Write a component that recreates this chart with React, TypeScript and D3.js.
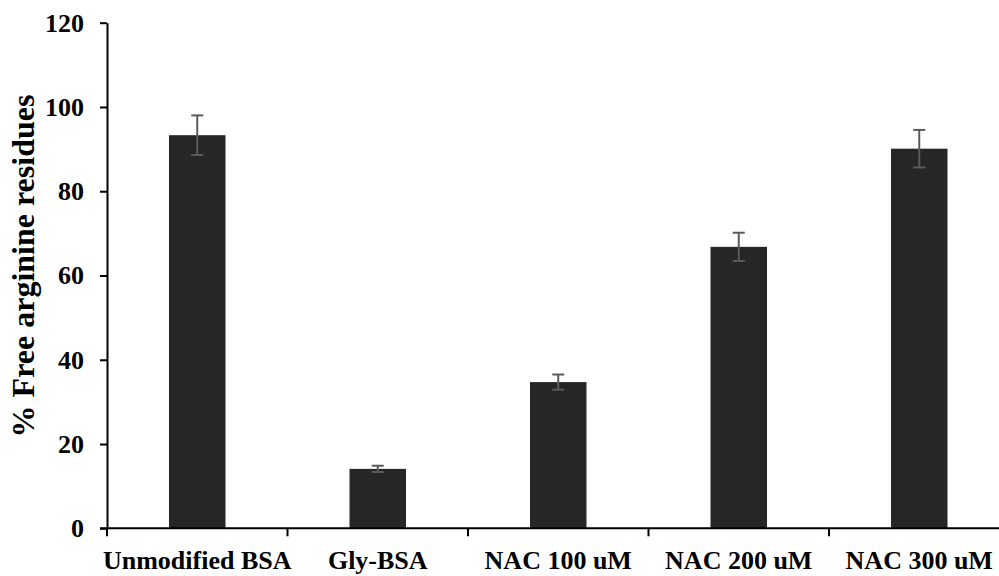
import * as d3 from 'd3';
import React, { useEffect, useRef } from 'react';

// Data
const categories = ['Unmodified BSA', 'Gly-BSA', 'NAC 100 uM', 'NAC 200 uM', 'NAC 300 uM'];
const means = [93.3, 14.1, 34.7, 66.8, 90.1];
const errors = [4.7, 0.75, 1.8, 3.35, 4.45];
const yTicks = [0, 20, 40, 60, 80, 100, 120];

const App = () => {
  const svgRef = useRef<SVGSVGElement>(null);

  useEffect(() => {
    const width = 999;
    const height = 576;
    const font = '"Liberation Serif", "Times New Roman", serif';

    const data = categories.map((c, i) => ({ name: c, value: means[i], err: errors[i] }));

    // Scales
    const xScale = d3.scaleBand<string>()
      .domain(categories)
      .range([107, 1009.5])
      .padding(0);

    const yScale = d3.scaleLinear()
      .domain([0, 120])
      .range([528.3, 22.7]);

    const barW = xScale.bandwidth() * 0.313;

    const svg = d3.select(svgRef.current);
    svg.selectAll('*').remove();
    svg.attr('width', width).attr('height', height);

    // Bars
    svg.append('g')
      .selectAll('rect')
      .data(data)
      .enter()
      .append('rect')
      .attr('x', d => xScale(d.name)! + xScale.bandwidth() / 2 - barW / 2)
      .attr('y', d => yScale(d.value))
      .attr('width', barW)
      .attr('height', d => yScale(0) - yScale(d.value))
      .attr('fill', '#262626');

    // Error bars
    const eb = svg.append('g')
      .attr('stroke', '#5a5a5a')
      .attr('stroke-width', 2)
      .selectAll('g')
      .data(data)
      .enter()
      .append('g');
    const cx = (d: any) => xScale(d.name)! + xScale.bandwidth() / 2;
    eb.append('line')
      .attr('x1', cx).attr('x2', cx)
      .attr('y1', d => yScale(d.value + d.err))
      .attr('y2', d => yScale(d.value - d.err));
    eb.append('line')
      .attr('x1', d => cx(d) - 6).attr('x2', d => cx(d) + 6)
      .attr('y1', d => yScale(d.value + d.err))
      .attr('y2', d => yScale(d.value + d.err));
    eb.append('line')
      .attr('x1', d => cx(d) - 6).attr('x2', d => cx(d) + 6)
      .attr('y1', d => yScale(d.value - d.err))
      .attr('y2', d => yScale(d.value - d.err));

    // Y axis
    const yAxis = svg.append('g')
      .attr('transform', 'translate(107,0)')
      .call(d3.axisLeft(yScale).tickValues(yTicks).tickSize(7).tickPadding(16).tickSizeOuter(0));
    yAxis.select('.domain').attr('stroke', '#000').attr('stroke-width', 2);
    yAxis.selectAll('.tick line').attr('stroke', '#000').attr('stroke-width', 2);
    yAxis.selectAll('.tick text')
      .attr('font-family', font)
      .attr('font-weight', 'bold')
      .attr('font-size', 26)
      .attr('fill', '#000');

    // X axis: line and boundary ticks
    const xg = svg.append('g').attr('transform', `translate(0,${yScale(0)})`);
    xg.append('line')
      .attr('x1', 100).attr('x2', 1009.5)
      .attr('stroke', '#000').attr('stroke-width', 2);
    const bounds = categories.map(c => xScale(c)!);
    xg.selectAll('line.tk')
      .data(bounds)
      .enter()
      .append('line')
      .attr('class', 'tk')
      .attr('x1', d => d).attr('x2', d => d)
      .attr('y1', 0).attr('y2', 8)
      .attr('stroke', '#000').attr('stroke-width', 2);
    xg.selectAll('text')
      .data(categories)
      .enter()
      .append('text')
      .attr('x', d => xScale(d)! + xScale.bandwidth() / 2)
      .attr('y', 569 - yScale(0))
      .attr('text-anchor', 'middle')
      .attr('font-family', font)
      .attr('font-weight', 'bold')
      .attr('font-size', 26)
      .attr('fill', '#000')
      .text(d => d);

    // Y title
    svg.append('text')
      .attr('transform', 'translate(34,266) rotate(-90)')
      .attr('text-anchor', 'middle')
      .attr('font-family', font)
      .attr('font-weight', 'bold')
      .attr('font-size', 32)
      .attr('fill', '#000')
      .text('% Free arginine residues');
  }, []);

  return <svg ref={svgRef} style={{ position: 'absolute', left: 0, top: 0 }}></svg>;
};

export default App;
